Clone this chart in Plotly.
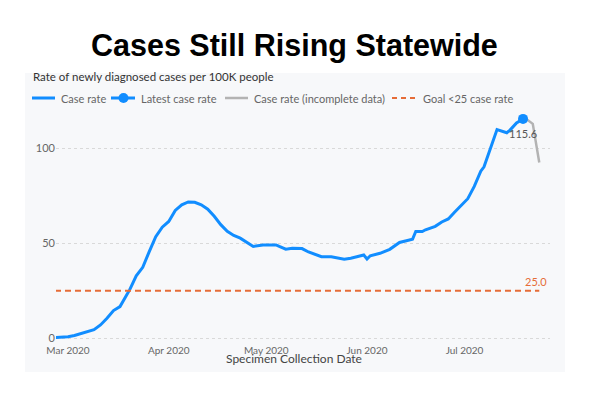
import plotly.graph_objects as go

# ---- data ----
case_dates = [
    "2020-02-26", "2020-02-28", "2020-03-01", "2020-03-03", "2020-03-05", "2020-03-07",
    "2020-03-09", "2020-03-11", "2020-03-13", "2020-03-15", "2020-03-17", "2020-03-19",
    "2020-03-20", "2020-03-22", "2020-03-24", "2020-03-26", "2020-03-28", "2020-03-30",
    "2020-04-01", "2020-04-03", "2020-04-05", "2020-04-07", "2020-04-09", "2020-04-11",
    "2020-04-13", "2020-04-15", "2020-04-17", "2020-04-19", "2020-04-21", "2020-04-23",
    "2020-04-25", "2020-04-27", "2020-04-30", "2020-05-04", "2020-05-05", "2020-05-07",
    "2020-05-09", "2020-05-12", "2020-05-14", "2020-05-16", "2020-05-18", "2020-05-21",
    "2020-05-23", "2020-05-25", "2020-05-27", "2020-05-29", "2020-05-31", "2020-06-01",
    "2020-06-02", "2020-06-05", "2020-06-08", "2020-06-11", "2020-06-13", "2020-06-15",
    "2020-06-16", "2020-06-18", "2020-06-19", "2020-06-22", "2020-06-24", "2020-06-26",
    "2020-06-28", "2020-06-30", "2020-07-02", "2020-07-04", "2020-07-06", "2020-07-07",
    "2020-07-09", "2020-07-11", "2020-07-14", "2020-07-15", "2020-07-17", "2020-07-19",
]
case_rate = [
    0.2, 0.4, 0.7, 1.3, 2.4, 3.3,
    4.4, 6.9, 10.4, 14.5, 16.6, 22.5,
    25.5, 32.8, 37.3, 45.6, 53.5, 58.5,
    61.5, 67.3, 70.3, 71.8, 71.6, 70.3,
    68.0, 64.2, 59.8, 56.3, 54.1, 52.7,
    50.4, 48.3, 49.1, 49.1, 48.3, 46.9,
    47.4, 47.2, 45.4, 44.2, 42.9, 42.9,
    42.4, 41.6, 42.1, 42.9, 43.8, 41.7,
    43.4, 44.7, 46.8, 50.4, 51.4, 52.1,
    56.2, 56.2, 57.1, 58.9, 61.2, 62.8,
    66.5, 70.0, 73.5, 80.0, 88.0, 90.3,
    100.3, 110.0, 108.3, 109.7, 113.5, 115.6,
]
latest_date = ["2020-07-19"]
latest_rate = [115.6]
incomplete_dates = ["2020-07-19", "2020-07-20", "2020-07-22", "2020-07-24"]
incomplete_rate = [115.6, 115.5, 113.0, 92.6]
goal_value = 25
goal_dates = ["2020-02-26", "2020-07-24"]

x_ticks = ["2020-03-01", "2020-04-01", "2020-05-01", "2020-06-01", "2020-07-01"]
x_tick_labels = ["Mar 2020", "Apr 2020", "May 2020", "Jun 2020", "Jul 2020"]
y_ticks = [0, 50, 100]
legend_labels = ["Case rate", "Latest case rate", "Case rate (incomplete data)", "Goal <25 case rate"]

BLUE = "#118DFF"
GRAY = "#B3B3B3"
ORANGE = "#E66C37"
PANEL = "#F7F8FA"
FONT = "Lato, Roboto, sans-serif"

W, H = 590, 393
ML, MR, MT, MB = 56, 40, 110, 53
PW, PH = W - ML - MR, H - MT - MB


def px(xp):
    return (xp - ML) / PW


def py(yp):
    return (H - MB - yp) / PH


fig = go.Figure()
fig.add_trace(go.Scatter(x=case_dates, y=case_rate, mode="lines", name=legend_labels[0],
                         line=dict(color=BLUE, width=3), hoverinfo="skip"))
fig.add_trace(go.Scatter(x=incomplete_dates, y=incomplete_rate, mode="lines",
                         name=legend_labels[2], line=dict(color=GRAY, width=2.5)))
fig.add_trace(go.Scatter(x=goal_dates, y=[goal_value] * len(goal_dates), mode="lines",
                         name=legend_labels[3], line=dict(color=ORANGE, width=2, dash="6px,4px")))
fig.add_trace(go.Scatter(x=latest_date, y=latest_rate, mode="markers", name=legend_labels[1],
                         marker=dict(color=BLUE, size=10)))

fig.add_annotation(x=latest_date[0], y=latest_rate[0], text=f"{latest_rate[0]:.1f}",
                   showarrow=False, yshift=-15, font=dict(size=11, color="#555555", family=FONT))
fig.add_annotation(x=goal_dates[-1], y=goal_value, text=f"{goal_value:.1f}", showarrow=False,
                   xanchor="right", yanchor="bottom", xshift=10, yshift=1,
                   font=dict(size=11, color=ORANGE, family=FONT))

# panel background
fig.add_shape(type="rect", xref="paper", yref="paper", x0=px(25), x1=px(565), y0=py(372), y1=py(73),
              fillcolor=PANEL, line=dict(width=0), layer="below")

# title / subtitle / axis title
fig.add_annotation(xref="paper", yref="paper", x=px(294), y=py(45), text="<b>Cases Still Rising Statewide</b>",
                   showarrow=False, xanchor="center", yanchor="middle",
                   font=dict(size=30.5, color="#000000", family="Liberation Sans, Arial, sans-serif"))
fig.add_annotation(xref="paper", yref="paper", x=px(31), y=py(76), text="Rate of newly diagnosed cases per 100K people",
                   showarrow=False, xanchor="left", yanchor="middle",
                   font=dict(size=11.5, color="#333333", family=FONT))
fig.add_annotation(xref="paper", yref="paper", x=px(294), y=py(358), text="Specimen Collection Date",
                   showarrow=False, xanchor="center", yanchor="middle",
                   font=dict(size=12, color="#444444", family=FONT))

# manual legend
LY = py(98)
leg_lines = [(32, 55, BLUE, 3, "solid"), (111, 135, BLUE, 3, "solid"),
             (225, 248, GRAY, 2.5, "solid"), (392, 417, ORANGE, 2, "5px,4px")]
leg_text_x = [59, 139, 252, 421]
for (a, b, c, w, d), tx, lab in zip(leg_lines, leg_text_x, legend_labels):
    fig.add_shape(type="line", xref="paper", yref="paper", x0=px(a), x1=px(b), y0=LY, y1=LY,
                  line=dict(color=c, width=w, dash=d))
    fig.add_annotation(xref="paper", yref="paper", x=px(tx), y=LY, text=lab, showarrow=False,
                       xanchor="left", yanchor="middle", font=dict(size=11, color="#666666", family=FONT))
fig.add_shape(type="circle", xref="paper", yref="paper", x0=px(118.5), x1=px(128.5),
              y0=py(103), y1=py(93), fillcolor=BLUE, line=dict(width=0))

fig.update_layout(
    width=W, height=H,
    margin=dict(l=ML, r=MR, t=MT, b=MB),
    paper_bgcolor="white", plot_bgcolor="rgba(0,0,0,0)",
    font=dict(family=FONT, color="#666666", size=11),
    showlegend=False,
    xaxis=dict(range=["2020-02-26 07:26", "2020-07-27 07:12"], tickvals=x_ticks, ticktext=x_tick_labels,
               showgrid=False, zeroline=False, showline=False, ticks="", ticklabelstandoff=3,
               tickfont=dict(size=10, color="#666666")),
    yaxis=dict(range=[-1.05, 120.3], tickvals=y_ticks, showgrid=True, gridcolor="#D9D9D9",
               griddash="dot", gridwidth=1, zeroline=False, showline=False, ticks="",
               tickfont=dict(size=11, color="#666666")),
)

fig.write_html("out.html", post_script="document.body.style.margin='0px';",
               config={"displayModeBar": False})
